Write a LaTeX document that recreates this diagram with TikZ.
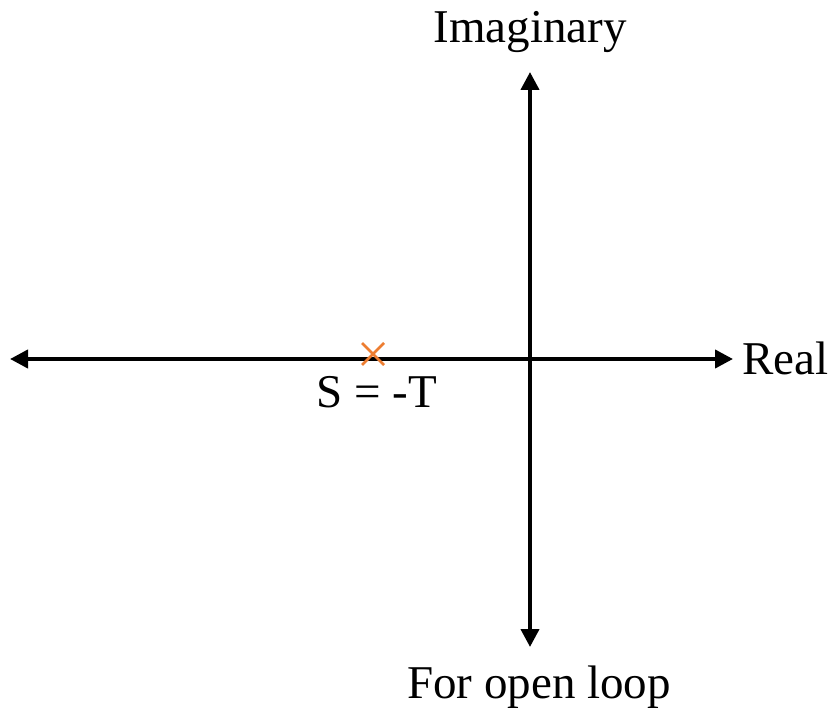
\documentclass[tikz,border=0pt]{standalone}
\usepackage{fontspec}
\setmainfont{Liberation Serif}
\usetikzlibrary{arrows.meta,calc}
\definecolor{poleorange}{HTML}{ED7D31}
\begin{document}
\begin{tikzpicture}[x=1pt,y=-1pt,
  axis/.style={line width=4pt,{Triangle[length=18pt,width=18pt]}-{Triangle[length=18pt,width=18pt]}},
  lbl/.style={inner sep=0pt,anchor=base,font=\fontsize{47}{56}\selectfont},
  pole/.style={draw=poleorange,line width=2.5pt}]
\useasboundingbox (0,0) rectangle (831,714);
\coordinate (L) at (10,359);
\coordinate (R) at (733,359);
\coordinate (T) at (530,72);
\coordinate (B) at (530,647);
\draw[axis] (L) -- (R);
\draw[axis] (B) -- (T);
\coordinate (P) at (373,354);
\draw[pole] ($(P)+(-11,-11)$) -- ($(P)+(11,11)$) ($(P)+(-11,11)$) -- ($(P)+(11,-11)$);
\node[lbl] (im) at (530,43) {Imaginary};
\node[lbl,anchor=base west] (re) at (742,375) {Real};
\node[lbl] (st) at (377,407) {S = -T};
\node[lbl] (ol) at (539,698) {For open loop};
\end{tikzpicture}
\end{document}
